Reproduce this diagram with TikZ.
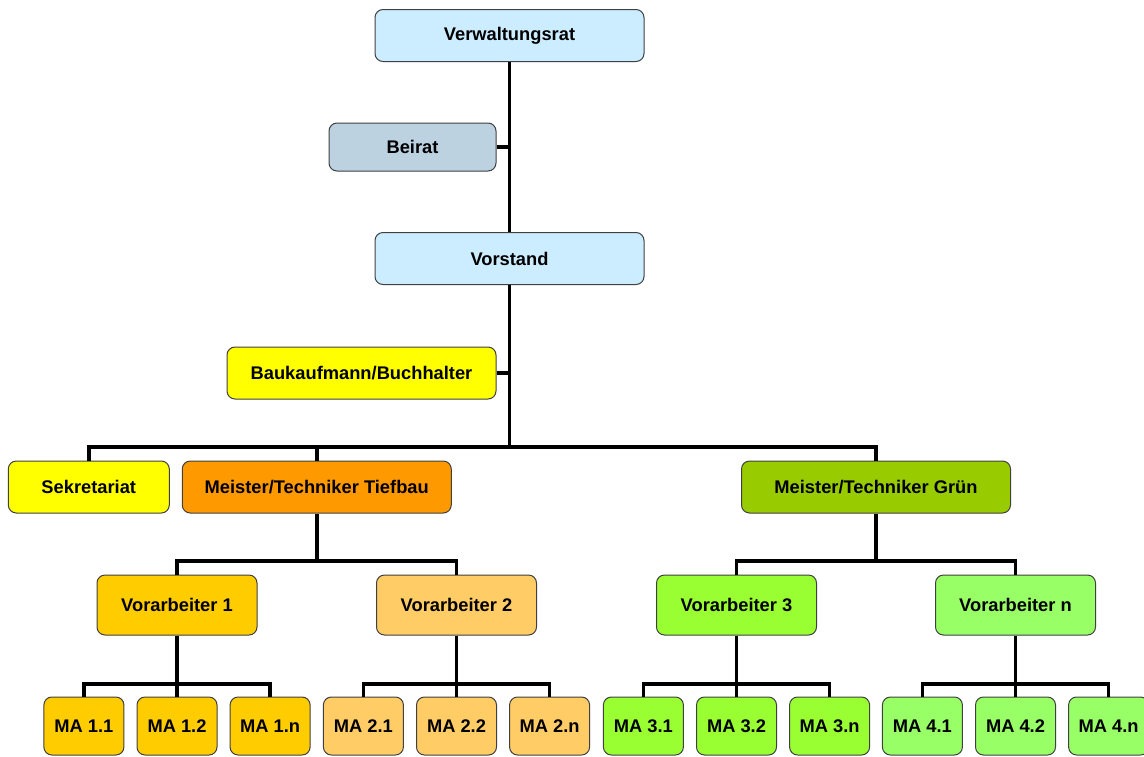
\documentclass[tikz,border=0pt]{standalone}
\usepackage{fontspec}
\setmainfont{Liberation Sans}
\usepackage{xcolor}
\usepackage{tikz}
\usetikzlibrary{positioning, calc}
\definecolor{boardcolor}{RGB}{204,236,255}
\definecolor{advisorcolor}{RGB}{188,210,224}
\definecolor{officecolor}{RGB}{255,255,0}
\definecolor{civilcolor}{RGB}{255,153,0}
\definecolor{greencolor}{RGB}{153,204,0}
\definecolor{teamcolor1}{RGB}{255,204,0}
\definecolor{teamcolor2}{RGB}{255,204,102}
\definecolor{teamcolor3}{RGB}{153,255,51}
\definecolor{teamcolor4}{RGB}{153,255,102}
\definecolor{linkcolor}{RGB}{0,0,0}

\begin{document}
\begin{tikzpicture}[
    x=1pt, y=-1pt,
    unit/.style={draw=black!75, line width=1pt, rounded corners=8pt, inner sep=0pt, font=\bfseries\fontsize{18.3}{22}\selectfont},
    board/.style={unit, minimum width=269pt, minimum height=52pt},
    foreman/.style={unit, minimum width=160pt, minimum height=60pt},
    worker/.style={unit, minimum width=80pt, minimum height=58pt},
    link/.style={line width=3.5pt, linkcolor}
]
    \useasboundingbox (0,0) rectangle (1144,756);

    % Management
    \node[board, fill=boardcolor] (verwaltungsrat) at (509.5,35.5) {Verwaltungsrat};
    \node[unit, fill=advisorcolor, minimum width=167pt, minimum height=48pt] (beirat) at (412.5,147) {Beirat};
    \node[board, fill=boardcolor] (vorstand) at (509.5,258.5) {Vorstand};
    \node[board, fill=officecolor] (buchhalter) at (361.5,373) {Baukaufmann/Buchhalter};

    % Departments
    \node[unit, fill=officecolor, minimum width=161pt, minimum height=52pt] (sekretariat) at (88.8,487) {Sekretariat};
    \node[board, fill=civilcolor] (tiefbau) at (316.75,487) {Meister/Techniker Tiefbau};
    \node[board, fill=greencolor] (gruen) at (876,487) {Meister/Techniker Grün};

    % Foremen
    \node[foreman, fill=teamcolor1] (vorarb1) at (177,605) {Vorarbeiter 1};
    \node[foreman, fill=teamcolor2] (vorarb2) at (456.5,605) {Vorarbeiter 2};
    \node[foreman, fill=teamcolor3] (vorarb3) at (736.5,605) {Vorarbeiter 3};
    \node[foreman, fill=teamcolor4] (vorarbn) at (1015.5,605) {Vorarbeiter n};

    % Workers
    \node[worker, fill=teamcolor1] (ma11) at (83.9,726) {MA 1.1};
    \node[worker, fill=teamcolor1] (ma12) at (177,726) {MA 1.2};
    \node[worker, fill=teamcolor1] (ma1n) at (270.1,726) {MA 1.n};
    \node[worker, fill=teamcolor2] (ma21) at (363.4,726) {MA 2.1};
    \node[worker, fill=teamcolor2] (ma22) at (456.5,726) {MA 2.2};
    \node[worker, fill=teamcolor2] (ma2n) at (549.6,726) {MA 2.n};
    \node[worker, fill=teamcolor3] (ma31) at (643.4,726) {MA 3.1};
    \node[worker, fill=teamcolor3] (ma32) at (736.5,726) {MA 3.2};
    \node[worker, fill=teamcolor3] (ma3n) at (829.6,726) {MA 3.n};
    \node[worker, fill=teamcolor4] (ma41) at (922.4,726) {MA 4.1};
    \node[worker, fill=teamcolor4] (ma42) at (1015.5,726) {MA 4.2};
    \node[worker, fill=teamcolor4] (ma4n) at (1108.6,726) {MA 4.n};

    % Bus points
    \coordinate (hub) at (509.5,447);
    \coordinate (tbus) at (316.75,561);
    \coordinate (gbus) at (876,561);
    \coordinate (bus1) at (177,684);
    \coordinate (bus2) at (456.5,684);
    \coordinate (bus3) at (736.5,684);
    \coordinate (busn) at (1015.5,684);

    % Lines
    \draw[link] (verwaltungsrat) -- (vorstand);
    \draw[link] (vorstand) -- (hub);
    \draw[link] (beirat) -- (beirat -| hub);
    \draw[link] (buchhalter) -- (buchhalter -| hub);
    \draw[link] (sekretariat) |- (hub) -| (gruen);
    \draw[link] (tiefbau) -- (tiefbau |- hub);

    \draw[link] (tiefbau) -- (tbus);
    \draw[link] (vorarb1) |- (tbus) -| (vorarb2);
    \draw[link] (gruen) -- (gbus);
    \draw[link] (vorarb3) |- (gbus) -| (vorarbn);

    \draw[link] (vorarb1) -- (ma12);
    \draw[link] (ma11) |- (bus1) -| (ma1n);
    \draw[link] (vorarb2) -- (ma22);
    \draw[link] (ma21) |- (bus2) -| (ma2n);
    \draw[link] (vorarb3) -- (ma32);
    \draw[link] (ma31) |- (bus3) -| (ma3n);
    \draw[link] (vorarbn) -- (ma42);
    \draw[link] (ma41) |- (busn) -| (ma4n);
\end{tikzpicture}
\end{document}
